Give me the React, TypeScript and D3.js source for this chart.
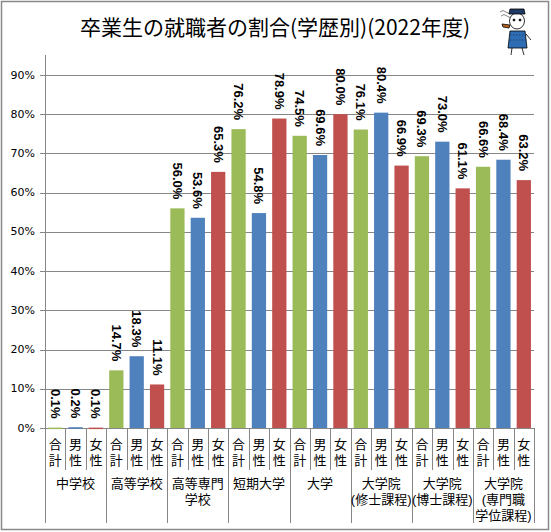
import React from "react";
import * as d3 from "d3";

const groups: string[][] = [
  ["中学校"],
  ["高等学校"],
  ["高等専門", "学校"],
  ["短期大学"],
  ["大学"],
  ["大学院", "(修士課程)"],
  ["大学院", "(博士課程)"],
  ["大学院", "(専門職", "学位課程)"],
];
const subLabels: string[][] = [["合", "計"], ["男", "性"], ["女", "性"]];
const totalVals = [0.1, 14.7, 56.0, 76.2, 74.5, 76.1, 69.3, 66.6];
const maleVals = [0.2, 18.3, 53.6, 54.8, 69.6, 80.4, 73.0, 68.4];
const femaleVals = [0.1, 11.1, 65.3, 78.9, 80.0, 66.9, 61.1, 63.2];
const yTicks = [0, 10, 20, 30, 40, 50, 60, 70, 80, 90];
const colors = ["#9BBB59", "#4F81BD", "#C0504D"];
const title = "卒業生の就職者の割合(学歴別)(2022年度)";

const W = 551;
const H = 532;
const left = 45;
const right = 534;
const bottom = 428;

export default function App() {
  const y = d3.scaleLinear().domain([0, 90]).range([bottom, 75]);
  const bars: { v: number; s: number; g: number; i: number }[] = [];
  groups.forEach((_, g) => {
    [totalVals[g], maleVals[g], femaleVals[g]].forEach((v, s) => {
      bars.push({ v, s, g, i: g * 3 + s });
    });
  });
  const x = d3
    .scaleBand<number>()
    .domain(bars.map((b) => b.i))
    .range([left, right])
    .paddingInner(0.3)
    .paddingOuter(0.15);
  const step = x.step();
  const edge = (i: number) => left + i * step;
  const cjk = "'Noto Sans CJK JP', sans-serif";
  const cjkTight = "'Liberation Sans', 'Noto Sans CJK JP', sans-serif";

  return (
    <svg
      width={W}
      height={H}
      style={{ position: "absolute", left: 0, top: 0, background: "#fff" }}
    >
      <rect x={0} y={0} width={W} height={H} fill="#fff" />
      <rect x={1.5} y={1.5} width={547} height={528} fill="none" stroke="#888" strokeWidth={1.5} />
      <text
        x={275}
        y={26}
        textAnchor="middle"
        dominantBaseline="central"
        fontFamily={cjk}
        fontSize={21}
        fill="#000"
      >
        {title}
      </text>

      {/* gridlines */}
      {yTicks.map((t) => (
        <g key={t}>
          <line
            x1={left - 5}
            x2={right}
            y1={Math.round(y(t)) + 0.5}
            y2={Math.round(y(t)) + 0.5}
            stroke="#868686"
            strokeWidth={1}
          />
          <text
            x={35}
            y={y(t)}
            textAnchor="end"
            dominantBaseline="central"
            fontFamily="'DejaVu Sans', sans-serif"
            fontSize={11}
            fill="#000"
          >
            {t}%
          </text>
        </g>
      ))}
      <line x1={left + 0.5} x2={left + 0.5} y1={55} y2={bottom} stroke="#868686" />

      {/* bars */}
      {bars.map((b) => (
        <rect
          key={b.i}
          x={x(b.i)}
          y={y(b.v)}
          width={x.bandwidth()}
          height={Math.max(bottom - y(b.v), 1.5)}
          fill={colors[b.s]}
        />
      ))}
      {/* data labels */}
      {bars.map((b) => (
        <text
          key={"l" + b.i}
          transform={`translate(${(x(b.i) as number) + x.bandwidth() / 2},${y(b.v) - 9}) rotate(90)`}
          textAnchor="end"
          dominantBaseline="central"
          fontFamily="'Liberation Sans', Arial, sans-serif"
          fontWeight="bold"
          fontSize={13}
          fill="#000"
        >
          {b.v.toFixed(1)}%
        </text>
      ))}

      {/* category axis */}
      {d3.range(bars.length + 1).map((i) => (
        <line
          key={"s" + i}
          x1={Math.round(edge(i)) + 0.5}
          x2={Math.round(edge(i)) + 0.5}
          y1={bottom}
          y2={i % 3 === 0 ? 523 : 470}
          stroke="#868686"
        />
      ))}
      {bars.map((b) => {
        const cx = (x(b.i) as number) + x.bandwidth() / 2;
        return (
          <text
            key={"c" + b.i}
            textAnchor="middle"
            dominantBaseline="central"
            fontFamily={cjkTight}
            fontSize={13}
            fill="#000"
          >
            {subLabels[b.s].map((ch, k) => (
              <tspan key={k} x={cx} y={444 + k * 16}>
                {ch}
              </tspan>
            ))}
          </text>
        );
      })}
      {groups.map((lines, g) => {
        const cx = edge(g * 3) + step * 1.5;
        return (
          <text
            key={"g" + g}
            textAnchor="middle"
            dominantBaseline="central"
            fontFamily={cjkTight}
            fontSize={13}
            fill="#000"
          >
            {lines.map((ln, k) => (
              <tspan key={k} x={cx} y={483 + k * 16}>
                {ln}
              </tspan>
            ))}
          </text>
        );
      })}

      {/* mascot */}
      <g stroke="#000" strokeWidth={0.8}>
        <path d="M500,12 q3,-3 6,0 q3,3 6,0 M501,16 q3,-3 6,0 q3,3 6,0" fill="none" stroke="#666" />
        <path d="M510,31 L525,31 L527,48 L508,48 Z" fill="#2E6DB4" />
        <path d="M510,35 L527,35 M510,40 L527,40" stroke="#1F3A66" strokeDasharray="1.5 1.5" />
        <ellipse cx={517} cy={21} rx={7.5} ry={8} fill="#fff" />
        <path d="M509,14 L525,14 L524,9 L510,9 Z" fill="#1F3A66" />
        <circle cx={514} cy={20} r={1} fill="#000" />
        <circle cx={520} cy={20} r={1} fill="#000" />
        <path d="M502,24 L510,25 L509,28 L503,27 Z" fill="#B5651D" />
        <path d="M512,48 L511,55 M522,48 L524,55" fill="none" />
        <path d="M526,34 L531,40" fill="none" />
      </g>
    </svg>
  );
}
